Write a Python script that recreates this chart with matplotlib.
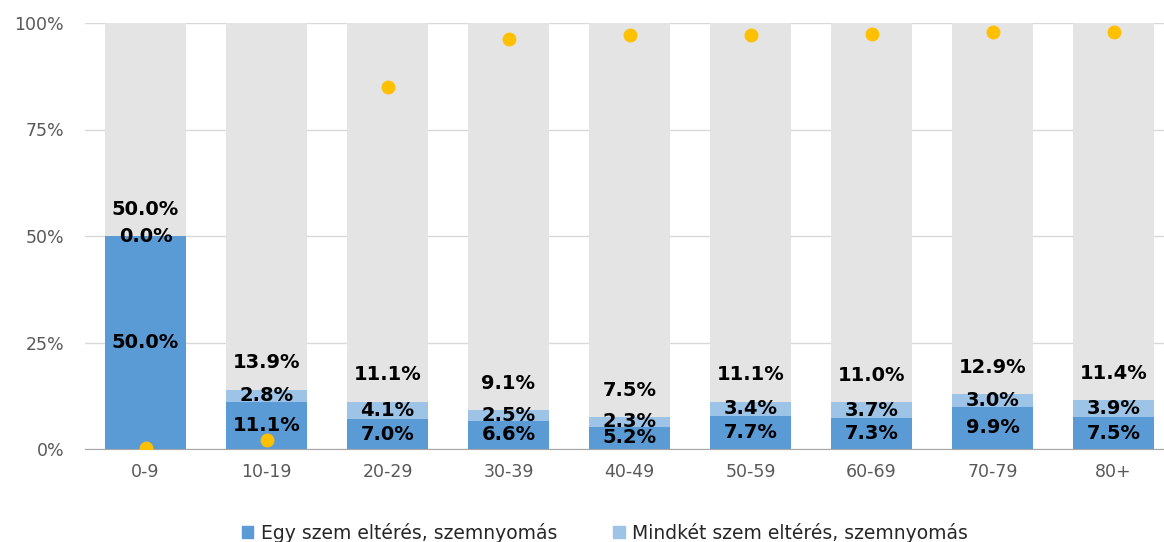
import matplotlib
matplotlib.use("Agg")
import matplotlib.pyplot as plt
from matplotlib.patches import Patch
import numpy as np

categories = ["0-9", "10-19", "20-29", "30-39", "40-49", "50-59", "60-69", "70-79", "80+"]
egy_szem = [50.0, 11.1, 7.0, 6.6, 5.2, 7.7, 7.3, 9.9, 7.5]
mindket_szem = [0.0, 2.8, 4.1, 2.5, 2.3, 3.4, 3.7, 3.0, 3.9]
osszes = [50.0, 13.9, 11.1, 9.1, 7.5, 11.1, 11.0, 12.9, 11.4]
pontok = [0.3, 2.1, 85.0, 96.2, 97.1, 97.1, 97.4, 97.9, 97.9]
yticks = [0, 25, 50, 75, 100]
ytick_labels = ["0%", "25%", "50%", "75%", "100%"]

W, H = 1164, 542
fig = plt.figure(figsize=(W / 100, H / 100), dpi=100)
ax = fig.add_axes([85 / W, 1 - 449 / H, (1174 - 85) / W, (449 - 23) / H])

x = np.arange(len(categories))
bw = 0.675
dark = "#5B9BD5"
light = "#9DC3E6"
grey = "#E4E4E4"

ax.bar(x, [100] * len(x), width=bw, color=grey, zorder=1)
ax.bar(x, egy_szem, width=bw, color=dark, zorder=2)
ax.bar(x, mindket_szem, width=bw, bottom=egy_szem, color=light, zorder=2)
ax.plot(x, pontok, linestyle="none", marker="o", ms=9, color="#FFC000", zorder=4)

lab_kw = dict(ha="center", va="center", fontsize=14, fontweight="bold", color="black", zorder=5)
for i in range(len(x)):
    ax.text(x[i], egy_szem[i] / 2, f"{egy_szem[i]:.1f}%", **lab_kw)
    ax.text(x[i], egy_szem[i] + mindket_szem[i] / 2, f"{mindket_szem[i]:.1f}%", **lab_kw)
    ax.text(x[i], osszes[i] + 6.3, f"{osszes[i]:.1f}%", **lab_kw)

ax.set_xlim(-0.5, 8.5)
ax.set_ylim(0, 100)
ax.set_yticks(yticks)
ax.set_yticklabels(ytick_labels)
ax.set_xticks(x)
ax.set_xticklabels(categories)
ax.tick_params(axis="both", length=0, labelsize=12.5, labelcolor="#595959")
ax.tick_params(axis="x", pad=10)
ax.tick_params(axis="y", pad=15)
ax.grid(axis="y", color="#D9D9D9", linewidth=1, zorder=0)
ax.set_axisbelow(True)
for s in ["top", "right", "left"]:
    ax.spines[s].set_visible(False)
ax.spines["bottom"].set_color("#A6A6A6")
ax.spines["bottom"].set_zorder(3)

handles = [Patch(color=dark, label="Egy szem eltérés, szemnyomás"),
           Patch(color=light, label="Mindkét szem eltérés, szemnyomás")]
fig.legend(handles=handles, loc="center", bbox_to_anchor=(605 / W, 1 - 533 / H), ncol=2,
           frameon=False, fontsize=13.5, handlelength=0.6, handleheight=0.6,
           columnspacing=3.0, handletextpad=0.4, labelcolor="#262626")

fig.savefig("out.png", dpi=100)
